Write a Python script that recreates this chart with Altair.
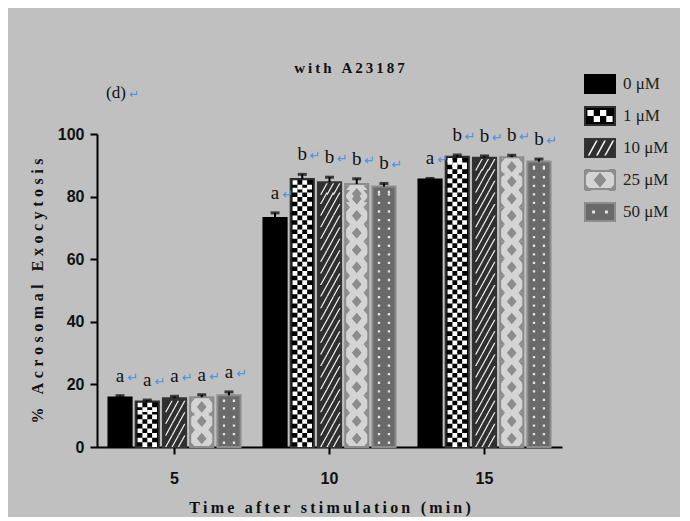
import math
import altair as alt
import pandas as pd

# ---------------- data ----------------
times = ["5", "10", "15"]
concs = ["0 μM", "1 μM", "10 μM", "25 μM", "50 μM"]

mean_5 = [15.8, 14.5, 15.6, 15.9, 16.5]
mean_10 = [73.2, 85.6, 84.6, 84.0, 83.2]
mean_15 = [85.5, 92.7, 92.4, 92.6, 91.2]
err_5 = [0.6, 0.5, 0.6, 0.8, 1.1]
err_10 = [1.6, 1.5, 1.6, 1.7, 1.0]
err_15 = [0.3, 0.6, 0.6, 0.6, 0.8]
letters_5 = ["a", "a", "a", "a", "a"]
letters_10 = ["a", "b", "b", "b", "b"]
letters_15 = ["a", "b", "b", "b", "b"]

means = [mean_5, mean_10, mean_15]
errs = [err_5, err_10, err_15]
letters = [letters_5, letters_10, letters_15]

rows = []
for ti, t in enumerate(times):
    for ci, c in enumerate(concs):
        m = means[ti][ci]
        e = errs[ti][ci]
        rows.append({"time": t, "conc": c, "mean": m, "top": m + e, "letter": letters[ti][ci]})
df = pd.DataFrame(rows)

# ---------------- styles ----------------
W, H = 465, 313
bar_fill = ["#000000", "#000000", "#2f2f2f", "#d4d4d4", "#6a6a6a"]
bar_stroke = ["#000000", "#2e2e2e", "#333333", "#8c8c8c", "#8c8c8c"]
pat_fill = ["#000000", "#ffffff", "#f0f0f0", "#8c8c8c", "#e4e4e4"]
pat_keys = [f"p{i}" for i in range(len(concs))]
pat_key_of = dict(zip(concs, pat_keys))

# invisible zero-length sub-paths that give every tile the same bounds
extent = " M0,-0.74L0,-0.74 M0,0.74L0,0.74 M-1,0L-1,0 M1,0L1,0"
checker = ("M-0.84,-0.4h0.42v0.4h-0.42Z M0,-0.4h0.42v0.4h-0.42Z "
           "M-0.42,0h0.42v0.4h-0.42Z M0.42,0h0.42v0.4h-0.42Z") + extent
stripes = " ".join(
    f"M{x:.2f},0.5L{x + 0.12:.2f},0.5L{x + 0.67:.2f},-0.5L{x + 0.55:.2f},-0.5Z"
    for x in (-0.82, -0.27, 0.28)
) + extent
diamonds = ("M0,-0.5L0.42,0L0,0.5L-0.42,0Z "
            "M-1,-0.74L-0.58,-0.74L-1,-0.24Z M-1,0.74L-0.58,0.74L-1,0.24Z "
            "M1,-0.74L0.58,-0.74L1,-0.24Z M1,0.74L0.58,0.74L1,0.24Z") + extent
dots = "M-0.53,-0.1h0.2v0.2h-0.2Z M0.33,-0.1h0.2v0.2h-0.2Z" + extent
empty = "M0,0L0,0" + extent
pat_shapes = [empty, checker, stripes, diamonds, dots]
tile_units = {"1 μM": 0.8, "10 μM": 1.0, "25 μM": 1.48, "50 μM": 0.74}
legend_rect = "M-1,-0.6H1V0.6H-1Z" + extent

# bar geometry (band scales)
x_step = W / 3.0
x_bw = x_step * (1 - 0.148)
off_step = x_bw / (5 - 0.15)
bar_w = off_step * (1 - 0.15)
unit_px = bar_w / 2.0
data_per_px = 100.0 / H

prow = []
for r in rows:
    if r["conc"] not in tile_units:
        continue
    hd = tile_units[r["conc"]] * unit_px * data_per_px
    top = r["mean"] - 0.35
    n = int(math.floor(top / hd))
    key = pat_key_of[r["conc"]]
    for k in range(n):
        prow.append({"time": r["time"], "conc": r["conc"], "pattern": key, "py": (k + 0.5) * hd})
    if top - n * hd > 0.2 * hd:
        prow.append({"time": r["time"], "conc": r["conc"], "pattern": key, "py": top - hd / 2})
pdf = pd.DataFrame(prow)


def spaced(s, sep="\u2009"):
    return sep.join(list(s))


serif = "Liberation Serif"
sans = "Liberation Sans"

x_enc = alt.X(
    "time:N", sort=times,
    scale=alt.Scale(paddingInner=0.148, paddingOuter=0.074),
    axis=alt.Axis(
        title=spaced("Time after stimulation (min)"), labelAngle=0,
        labelFont=sans, labelFontSize=16, labelFontWeight="bold", labelColor="#111",
        labelPadding=16, titleFont=serif, titleFontSize=16, titleFontWeight="bold",
        titleColor="#111", titlePadding=13, tickSize=7,
    ),
)
xo_enc = alt.XOffset("conc:N", sort=concs, scale=alt.Scale(paddingInner=0.15, paddingOuter=0))
y_scale = alt.Scale(domain=[0, 100], nice=False)
y_axis = alt.Axis(
    values=[0, 20, 40, 60, 80, 100],
    title=spaced("% Acrosomal Exocytosis", "\u2009\u200a"),
    labelFont=sans, labelFontSize=16, labelFontWeight="bold", labelColor="#111",
    labelPadding=6, titleFont=serif, titleFontSize=16, titleFontWeight="bold",
    titleColor="#111", titlePadding=12, tickSize=7, grid=False,
)

legend_common = dict(
    orient="none", legendX=487, legendY=-66, title=None, padding=0,
    rowPadding=0, symbolSize=900, symbolStrokeWidth=2,
    labelFont=serif, labelFontSize=17, labelColor="#222", labelOffset=7,
)
bar_legend = dict(legend_common, symbolType=legend_rect)
pat_legend = dict(legend_common, labelOpacity=0, labelColor="transparent",
                  symbolStrokeColor="transparent")

base = alt.Chart(df)

bars = base.mark_bar(strokeWidth=2).encode(
    x=x_enc, xOffset=xo_enc,
    y=alt.Y("mean:Q", scale=y_scale, axis=y_axis),
    fill=alt.Fill("conc:N", sort=concs,
                  scale=alt.Scale(domain=concs, range=bar_fill),
                  legend=alt.Legend(**bar_legend)),
    stroke=alt.Stroke("conc:N", sort=concs,
                      scale=alt.Scale(domain=concs, range=bar_stroke),
                      legend=alt.Legend(**bar_legend)),
)

patterns = alt.Chart(pdf).mark_point(filled=True, opacity=1, strokeWidth=0,
                                      size=bar_w * bar_w).encode(
    x=alt.X("time:N", sort=times),
    xOffset=alt.XOffset("conc:N", sort=concs),
    y=alt.Y("py:Q"),
    shape=alt.Shape("pattern:N", scale=alt.Scale(domain=pat_keys, range=pat_shapes),
                    legend=alt.Legend(**pat_legend)),
    color=alt.Color("pattern:N", scale=alt.Scale(domain=pat_keys, range=pat_fill),
                    legend=alt.Legend(**pat_legend)),
)

err_rule = base.mark_rule(color="#000", strokeWidth=2).encode(
    x=alt.X("time:N", sort=times), xOffset=alt.XOffset("conc:N", sort=concs),
    y="mean:Q", y2="top:Q",
)
err_cap = base.mark_tick(color="#000", thickness=3, size=9).encode(
    x=alt.X("time:N", sort=times), xOffset=alt.XOffset("conc:N", sort=concs),
    y="top:Q",
)
letter_txt = base.mark_text(font=serif, fontSize=19, baseline="middle", dy=-20,
                            color="#111").encode(
    x=alt.X("time:N", sort=times), xOffset=alt.XOffset("conc:N", sort=concs),
    y="top:Q", text="letter:N",
)
arrow_txt = base.mark_text(font="DejaVu Sans", fontSize=13, baseline="middle",
                           dx=13, dy=-18, color="#4a90e2").encode(
    x=alt.X("time:N", sort=times), xOffset=alt.XOffset("conc:N", sort=concs),
    y="top:Q", text=alt.value("↵"),
)

panel_label = pd.DataFrame({"t": ["(d)"]})
d_txt = alt.Chart(panel_label).mark_text(font=serif, fontSize=17, align="left",
                                         baseline="middle", color="#111").encode(
    x=alt.value(9), y=alt.value(-41), text="t:N")
d_arrow = alt.Chart(panel_label).mark_text(font="DejaVu Sans", fontSize=12, align="left",
                                           baseline="middle", color="#4a90e2").encode(
    x=alt.value(32), y=alt.value(-40), text=alt.value("↵"))

title_df = pd.DataFrame({"t": [spaced("with A23187")]})
title_txt = alt.Chart(title_df).mark_text(font=serif, fontSize=15, fontWeight="bold",
                                          align="center", baseline="middle",
                                          color="#111").encode(
    x=alt.value(W / 2 + 20), y=alt.value(-66), text="t:N")

chart = alt.layer(
    bars, patterns, err_rule, err_cap, letter_txt, arrow_txt, d_txt, d_arrow, title_txt
).properties(
    width=W, height=H,
    autosize=alt.AutoSizeParams(type="none"),
    padding={"left": 89, "top": 126, "right": 118, "bottom": 70},
    background="#c0c0c0",
).configure_view(stroke=None).configure_axis(
    domainColor="#000", domainWidth=2, tickColor="#000", tickWidth=2,
)

chart.save("out.html", embed_options={"renderer": "svg", "actions": False})
